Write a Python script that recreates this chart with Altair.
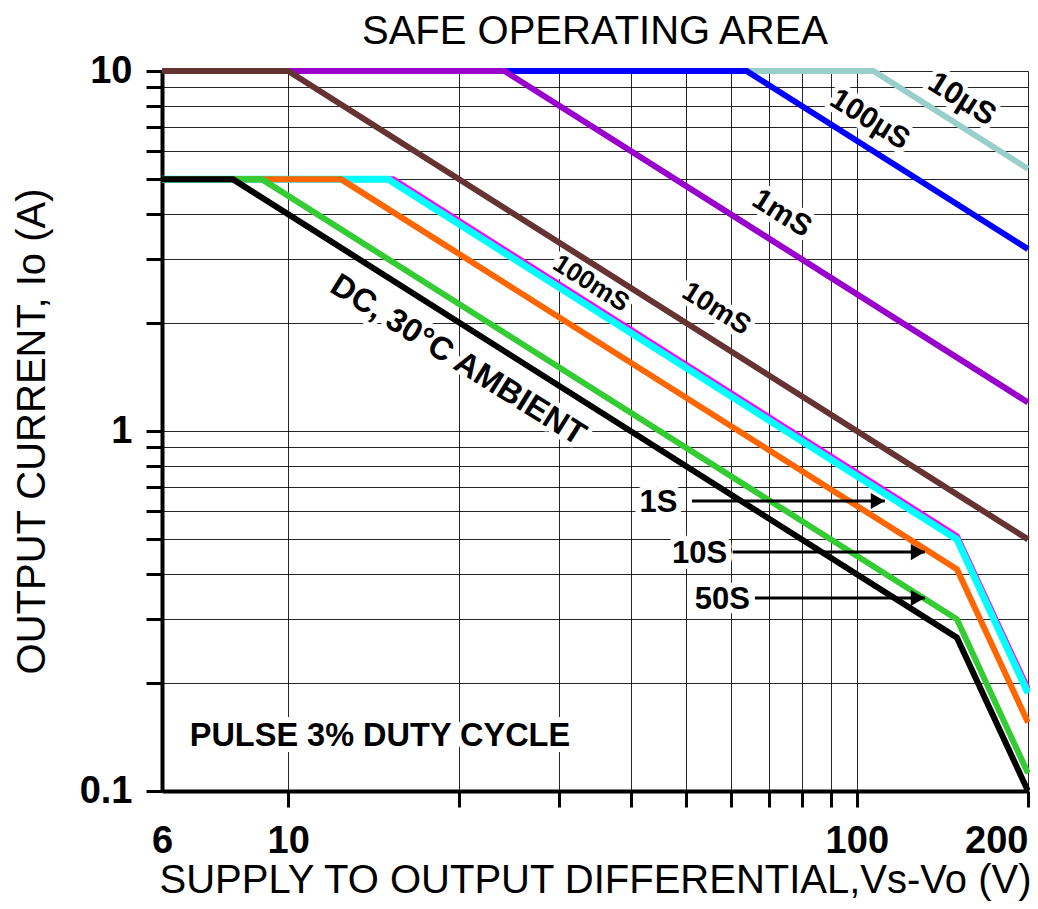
import altair as alt
import pandas as pd

FONT = "Liberation Sans"

# ---- curve data ----
series_names = ["10µS", "100µS", "1mS", "10mS", "1S upper", "1S", "10S", "50S", "DC"]
series_colors = ["#99cfca", "#0000ff", "#9900cc", "#663333", "#ff00ff",
                 "#00ffff", "#ff6600", "#33cc33", "#000000"]
series_widths = [6, 6, 6, 6, 6, 7, 6, 6, 6]
series_x = [
    [6, 107, 200],
    [6, 64, 200],
    [6, 24, 200],
    [6, 10, 200],
    [6, 15.3, 150, 200],
    [6, 15, 150, 200],
    [6, 12.4, 150, 200],
    [6, 9, 150, 200],
    [6, 8, 150, 200],
]
series_y = [
    [10, 10, 5.35],
    [10, 10, 3.2],
    [10, 10, 1.2],
    [10, 10, 0.5],
    [5, 5, 0.51, 0.192],
    [5, 5, 0.5, 0.187],
    [5, 5, 0.413, 0.155],
    [5, 5, 0.30, 0.112],
    [5, 5, 0.2667, 0.1],
]

# ---- axis ticks ----
x_tick_values = [6, 10, 20, 30, 40, 50, 60, 70, 80, 90, 100, 200]
x_label_values = [6, 10, 100, 200]
y_tick_values = [0.1, 0.2, 0.3, 0.4, 0.5, 0.6, 0.7, 0.8, 0.9,
                 1, 2, 3, 4, 5, 6, 7, 8, 9, 10]
y_label_values = [0.1, 1, 10]

# ---- annotations ----
rot_text = ["10µS", "100µS", "1mS", "10mS", "100mS", "DC, 30°C AMBIENT"]
rot_x = [153, 105.4, 73.8, 56.6, 34.1, 19.9]
rot_y = [8.33, 7.33, 4.02, 2.18, 2.57, 1.575]
rot_size = [31, 30, 30, 28, 26, 32.5]
rot_angle = [32, 32, 32, 32, 32, 32]

flat_text = ["1S", "10S", "50S", "PULSE 3% DUTY CYCLE"]
flat_x = [44.8, 52.9, 58.0, 14.5]
flat_y = [0.629, 0.454, 0.340, 0.1426]
flat_size = [31, 31, 31, 32.5]

arrow_x0 = [51.3, 60.5, 66.2]
arrow_x1 = [112.0, 131.7, 131.7]
arrow_y = [0.639, 0.461, 0.3436]

xscale = alt.Scale(type="log", domain=[6, 200], nice=False)
yscale = alt.Scale(type="log", domain=[0.1, 10], nice=False)

x_axis = alt.Axis(
    values=x_tick_values,
    labelExpr="indexof([6,10,100,200], datum.value) >= 0 ? '' + datum.value : ''",
    grid=True, gridColor="black", gridWidth=1, gridOpacity=0.85,
    tickSize=16, tickWidth=3, tickColor="black",
    tickOpacity={"condition": {"test": "datum.value == 6", "value": 0}, "value": 1},
    domainWidth=4, domainColor="black",
    labelFont=FONT, labelFontSize=38, labelFontWeight="bold", labelColor="black",
    labelPadding=15, labelFlush=False, labelOverlap=False,
    labelAlign={"condition": {"test": "datum.value == 200", "value": "right"}, "value": "center"},
    title="SUPPLY TO OUTPUT DIFFERENTIAL,Vs-Vo (V)",
    titleFont=FONT, titleFontSize=40, titleFontWeight="normal", titleColor="black",
    titlePadding=0,
)
y_axis = alt.Axis(
    values=y_tick_values,
    labelExpr="indexof([0.1,1,10], datum.value) >= 0 ? '' + datum.value : ''",
    grid=True, gridColor="black", gridWidth=1, gridOpacity=0.85,
    tickSize=16, tickWidth=3, tickColor="black",
    domainWidth=4, domainColor="black",
    labelFont=FONT, labelFontSize=38, labelFontWeight="bold", labelColor="black",
    labelPadding=14, labelOverlap=False,
    title="OUTPUT CURRENT, Io (A)",
    titleFont=FONT, titleFontSize=40, titleFontWeight="normal", titleColor="black",
    titlePadding=27,
)

X = alt.X("x:Q", scale=xscale, axis=x_axis)
Y = alt.Y("y:Q", scale=yscale, axis=y_axis)

layers = []

rot_df = pd.DataFrame({"t": rot_text, "x": rot_x, "y": rot_y, "fs": rot_size, "ang": rot_angle})
flat_df = pd.DataFrame({"t": flat_text, "x": flat_x, "y": flat_y, "fs": flat_size})

# white halos behind labels (hide grid)
layers.append(alt.Chart(rot_df).mark_text(
    font=FONT, fontWeight="bold", fill="white", stroke="white", strokeWidth=10,
    strokeJoin="round").encode(
    x=X, y=Y, text="t:N", size=alt.Size("fs:Q", scale=None),
    angle=alt.Angle("ang:Q", scale=None)))
layers.append(alt.Chart(flat_df).mark_text(
    font=FONT, fontWeight="bold", fill="white", stroke="white", strokeWidth=12,
    strokeJoin="round").encode(
    x=X, y=Y, text="t:N", size=alt.Size("fs:Q", scale=None)))

for name, col, w, xs, ys in zip(series_names, series_colors, series_widths, series_x, series_y):
    df = pd.DataFrame({"x": xs, "y": ys, "o": list(range(len(xs)))})
    layers.append(alt.Chart(df).mark_line(color=col, strokeWidth=w).encode(
        x=X, y=Y, order="o:Q"))

layers.append(alt.Chart(rot_df).mark_text(
    font=FONT, fontWeight="bold", color="black").encode(
    x=X, y=Y, text="t:N", size=alt.Size("fs:Q", scale=None),
    angle=alt.Angle("ang:Q", scale=None)))
layers.append(alt.Chart(flat_df).mark_text(
    font=FONT, fontWeight="bold", color="black").encode(
    x=X, y=Y, text="t:N", size=alt.Size("fs:Q", scale=None)))

arrow_df = pd.DataFrame({"x": arrow_x0, "x2": arrow_x1, "y": arrow_y})
layers.append(alt.Chart(arrow_df).mark_rule(color="black", strokeWidth=3).encode(
    x=X, x2="x2:Q", y=Y))
layers.append(alt.Chart(arrow_df).mark_point(
    shape="triangle-right", filled=True, color="black", opacity=1, size=260, xOffset=-7).encode(
    x=alt.X("x2:Q", scale=xscale, axis=x_axis), y=Y))

chart = alt.layer(*layers).properties(
    width=866, height=720,
    title=alt.TitleParams("SAFE OPERATING AREA", font=FONT, fontSize=40,
                          fontWeight="normal", color="black", anchor="middle", offset=0),
    autosize=alt.AutoSizeParams(type="none"),
    padding={"left": 154, "right": 2, "top": 63, "bottom": 110},
    background="white",
).configure_view(stroke=None)

chart.save("out.html", embed_options={"renderer": "svg", "actions": False})
